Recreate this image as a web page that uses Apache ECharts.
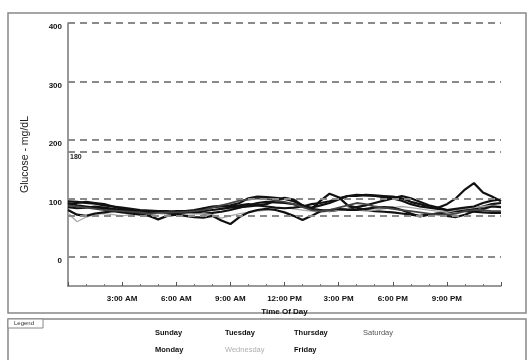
<!DOCTYPE html>
<html>
<head>
<meta charset="utf-8">
<script src="https://cdn.jsdelivr.net/npm/echarts@6/dist/echarts.min.js"></script>
<style>
  html, body { margin: 0; padding: 0; background: #fff; }
  #chart { width: 528px; height: 360px; }
</style>
</head>
<body>
<div id="chart"></div>
<script>
// hours of day, half-hour steps
var hours = [0, 0.5, 1, 1.5, 2, 2.5, 3, 3.5, 4, 4.5, 5, 5.5, 6, 6.5, 7, 7.5, 8, 8.5, 9, 9.5,
    10, 10.5, 11, 11.5, 12, 12.5, 13, 13.5, 14, 14.5, 15, 15.5, 16, 16.5, 17, 17.5, 18, 18.5,
    19, 19.5, 20, 20.5, 21, 21.5, 22, 22.5, 23, 23.5, 24];

var sunday = [95, 94, 92, 91, 88, 86, 84, 82, 80, 79, 78, 78, 77, 78, 80, 83, 86, 87, 88, 92,
    100, 103, 102, 101, 99, 95, 88, 82, 80, 78, 80, 82, 85, 88, 92, 96, 100, 104,
    100, 94, 88, 84, 90, 100, 115, 126, 110, 103, 95];
var monday = [90, 92, 94, 92, 90, 86, 82, 80, 78, 76, 76, 75, 74, 75, 76, 78, 80, 82, 84, 85,
    86, 88, 90, 96, 101, 98, 88, 82, 96, 108, 102, 88, 84, 80, 78, 77, 76, 74,
    72, 70, 72, 74, 76, 78, 80, 82, 86, 90, 92];
var tuesday = [85, 83, 84, 86, 84, 82, 80, 78, 76, 74, 75, 76, 78, 78, 76, 74, 75, 77, 80, 84,
    88, 92, 94, 93, 92, 90, 86, 84, 88, 92, 98, 104, 106, 105, 104, 102, 100, 96,
    90, 86, 84, 82, 80, 78, 78, 77, 76, 75, 75];
var wednesday = [75, 60, 68, 72, 74, 72, 70, 72, 74, 75, 74, 73, 72, 74, 73, 74, 72, 66, 70, 74,
    76, 78, 80, 82, 84, 82, 80, 78, 76, 78, 80, 82, 80, 78, 80, 82, 84, 86,
    84, 82, 80, 78, 76, 80, 82, 84, 86, 88, 86];
var thursday = [80, 72, 70, 74, 76, 78, 76, 74, 72, 70, 64, 70, 72, 70, 68, 67, 70, 62, 56, 68,
    76, 80, 82, 80, 76, 70, 63, 70, 78, 80, 82, 80, 80, 82, 84, 85, 84, 80,
    74, 69, 72, 74, 70, 68, 72, 78, 82, 86, 85];
var friday = [92, 88, 86, 84, 82, 80, 78, 76, 76, 76, 77, 76, 75, 76, 78, 82, 85, 86, 86, 88,
    90, 88, 86, 84, 83, 84, 86, 90, 92, 95, 100, 104, 104, 106, 105, 104, 103, 100,
    94, 90, 86, 84, 80, 82, 84, 86, 92, 96, 98];
var saturday = [88, 86, 84, 82, 80, 79, 78, 77, 76, 74, 75, 76, 76, 77, 78, 80, 84, 88, 92, 96,
    98, 100, 99, 96, 94, 90, 85, 80, 78, 80, 84, 88, 92, 90, 86, 84, 82, 80,
    78, 76, 74, 72, 72, 74, 78, 80, 80, 78, 78];

var dayNames = ['Sunday', 'Monday', 'Tuesday', 'Wednesday', 'Thursday', 'Friday', 'Saturday'];
var dayValues = [sunday, monday, tuesday, wednesday, thursday, friday, saturday];
var dayColors = ['#111', '#111', '#111', '#aaa', '#111', '#111', '#444'];
var dayWidths = [2.2, 2.2, 2.2, 1.3, 2.2, 2.2, 1.8];

// dashed reference lines
var refLines = [400, 300, 200, 180, 100, 70, 0];
var timeLabels = { 3: '3:00 AM', 6: '6:00 AM', 9: '9:00 AM', 12: '12:00 PM', 15: '3:00 PM', 18: '6:00 PM', 21: '9:00 PM' };

var font = '"Liberation Sans", Arial, sans-serif';

function pairs(vals) {
    return hours.map(function (h, i) { return [h, vals[i]]; });
}

var series = dayNames.map(function (name, i) {
    return {
        name: name,
        type: 'line',
        data: pairs(dayValues[i]),
        showSymbol: false,
        symbol: 'none',
        lineStyle: { color: dayColors[i], width: dayWidths[i] },
        itemStyle: { color: dayColors[i] },
        z: 3
    };
});

// reference lines on the first series
series[0].markLine = {
    silent: true,
    symbol: 'none',
    animation: false,
    lineStyle: { color: '#8a8a8a', type: [7, 5], width: 1.8 },
    label: { show: false },
    data: refLines.map(function (v) {
        var item = { yAxis: v };
        if (v === 180) {
            item.label = {
                show: true, position: 'insideStartBottom', formatter: '180',
                fontSize: 7, fontWeight: 'bold', color: '#222', fontFamily: font, distance: 2
            };
        }
        return item;
    })
};

function legendBlock(names, left) {
    return {
        orient: 'vertical',
        left: left,
        top: 324,
        itemGap: 9,
        itemWidth: 0,
        itemHeight: 0,
        icon: 'none',
        selectedMode: false,
        data: names.map(function (n) {
            return {
                name: n,
                textStyle: {
                    color: n === 'Wednesday' ? '#b0b0b0' : (n === 'Saturday' ? '#555' : '#111'),
                    fontWeight: n === 'Saturday' || n === 'Wednesday' ? 'normal' : 'bold'
                }
            };
        }),
        textStyle: { fontSize: 7.5, fontFamily: font, padding: [0, 0, 0, 0] }
    };
}

var chart = echarts.init(document.getElementById('chart'));
chart.setOption({
    animation: false,
    backgroundColor: '#fff',
    grid: { left: 68, right: 27, top: 23, bottom: 74 },
    xAxis: {
        type: 'value',
        min: 0,
        max: 24,
        interval: 3,
        name: 'Time Of Day',
        nameLocation: 'middle',
        nameGap: 20,
        nameTextStyle: { fontSize: 8, fontWeight: 'bold', color: '#111', fontFamily: font },
        axisLine: { show: true, onZero: false, lineStyle: { color: '#777', width: 1.5 } },
        axisTick: { show: true, inside: true, length: 4, lineStyle: { color: '#555' } },
        minorTick: { show: true, splitNumber: 3, length: 2, lineStyle: { color: '#777' } },
        splitLine: { show: false },
        axisLabel: {
            fontSize: 8, fontWeight: 'bold', color: '#111', fontFamily: font, margin: 9,
            formatter: function (v) { return timeLabels[v] || ''; }
        }
    },
    yAxis: {
        type: 'value',
        min: -50,
        max: 400,
        interval: 50,
        name: 'Glucose - mg/dL',
        nameLocation: 'middle',
        nameGap: 37,
        nameTextStyle: { fontSize: 10.5, color: '#222', fontFamily: font },
        axisLine: { show: true, lineStyle: { color: '#777', width: 1.5 } },
        axisTick: { show: false },
        splitLine: { show: false },
        axisLabel: {
            fontSize: 8, fontWeight: 'bold', color: '#111', fontFamily: font, margin: 6,
            verticalAlign: 'top',
            formatter: function (v) { return (v >= 0 && v % 100 === 0) ? String(v) : ''; }
        }
    },
    legend: [
        legendBlock(['Sunday', 'Monday'], 145),
        legendBlock(['Tuesday', 'Wednesday'], 215),
        legendBlock(['Thursday', 'Friday'], 284),
        legendBlock(['Saturday'], 353)
    ],
    graphic: [
        { type: 'rect', shape: { x: 8, y: 13, width: 518, height: 300 }, style: { fill: null, stroke: '#888', lineWidth: 1.5 }, silent: true },
        { type: 'rect', shape: { x: 8, y: 319, width: 518, height: 50 }, style: { fill: null, stroke: '#888', lineWidth: 1.5 }, silent: true },
        { type: 'rect', shape: { x: 8, y: 319, width: 35, height: 9 }, style: { fill: '#fff', stroke: '#888', lineWidth: 1 }, silent: true },
        { type: 'text', left: 14, top: 320, style: { text: 'Legend', fontSize: 6, fill: '#333', fontFamily: font }, silent: true }
    ],
    series: series
});
</script>
</body>
</html>
